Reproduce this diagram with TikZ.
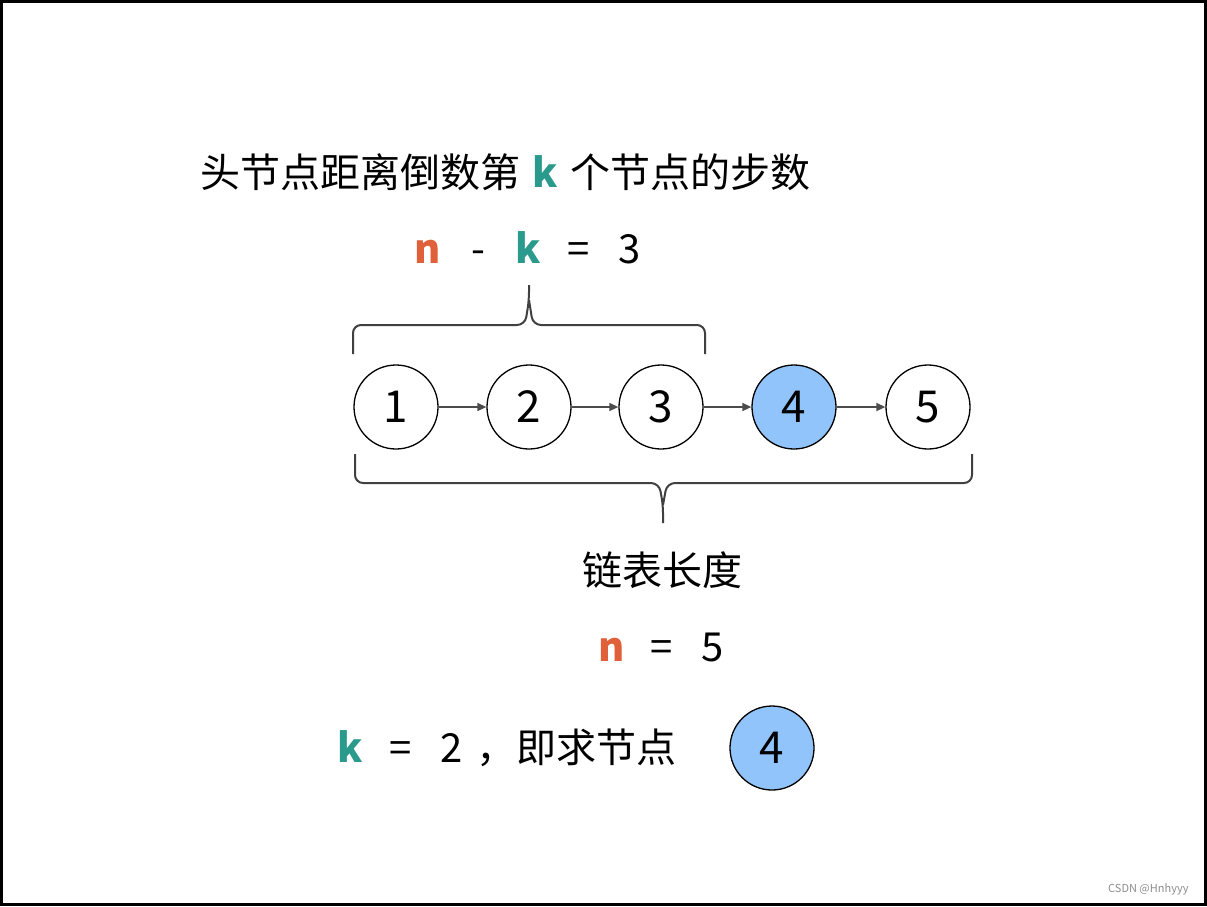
\documentclass[tikz,border=0pt]{standalone}
\usepackage{fontspec}
\setmainfont{Noto Sans CJK SC}
\usetikzlibrary{arrows.meta}
\definecolor{kc}{HTML}{2A9A8C}
\definecolor{nc}{HTML}{E0603A}
\definecolor{blu}{HTML}{90C4FA}
\newcommand{\tk}[1]{\makebox[50.5pt]{#1}}
\begin{document}
\begin{tikzpicture}[x=1pt,y=-1pt,
  nd/.style={circle,draw,line width=1.3pt,minimum size=84pt,inner sep=0pt,font=\fontsize{44}{48}\selectfont},
  lbl/.style={font=\fontsize{40}{44}\selectfont,inner sep=0pt},
  arr/.style={-{Triangle[length=9pt,width=8pt]},line width=1.5pt,draw=black!70},
  brace/.style={line width=2pt,draw=black!75,rounded corners=8pt}]
\useasboundingbox (0,0) rectangle (1207,906);
\draw[line width=2.5pt] (1.5,1.5) rectangle (1205.5,904.5);
\node[lbl,anchor=west] (t1) at (200,172) {头节点距离倒数第\tk{\textcolor{kc}{\textbf{k}}}个节点的步数};
\node[lbl,anchor=west] (t2) at (402,248) {\tk{\textcolor{nc}{\textbf{n}}}\tk{-}\tk{\textcolor{kc}{\textbf{k}}}\tk{=}\tk{3}};
\foreach \i/\x in {1/396,2/529,3/661,5/928}{\node[nd] (c\i) at (\x,407) {\i};}
\node[nd,fill=blu] (c4) at (794,407) {4};
\foreach \a/\b in {1/2,2/3,3/4,4/5}{\draw[arr] (c\a) -- (c\b);}
\draw[brace] (353,354) -- (353,325) -- (525,325) -- (529,300) -- (529,285);
\draw[brace] (529,300) -- (533,325) -- (705,325) -- (705,354);
\draw[brace] (355,454) -- (355,483) -- (659,483) -- (663,505) -- (663,523);
\draw[brace] (663,505) -- (667,483) -- (972,483) -- (972,454);
\node[lbl] (t3) at (662,570) {链表长度};
\node[lbl,anchor=west] (t4) at (586,647) {\tk{\textcolor{nc}{\textbf{n}}}\tk{=}\tk{5}};
\node[lbl,anchor=west] (t5) at (325,748) {\tk{\textcolor{kc}{\textbf{k}}}\tk{=}\tk{2}，即求节点};
\node[nd,fill=blu] (c6) at (772,748) {4};
\node[font=\fontsize{11}{12}\selectfont,text=black!45,anchor=east] (wm) at (1192,889) {CSDN @Hnhyyy};
\end{tikzpicture}
\end{document}
